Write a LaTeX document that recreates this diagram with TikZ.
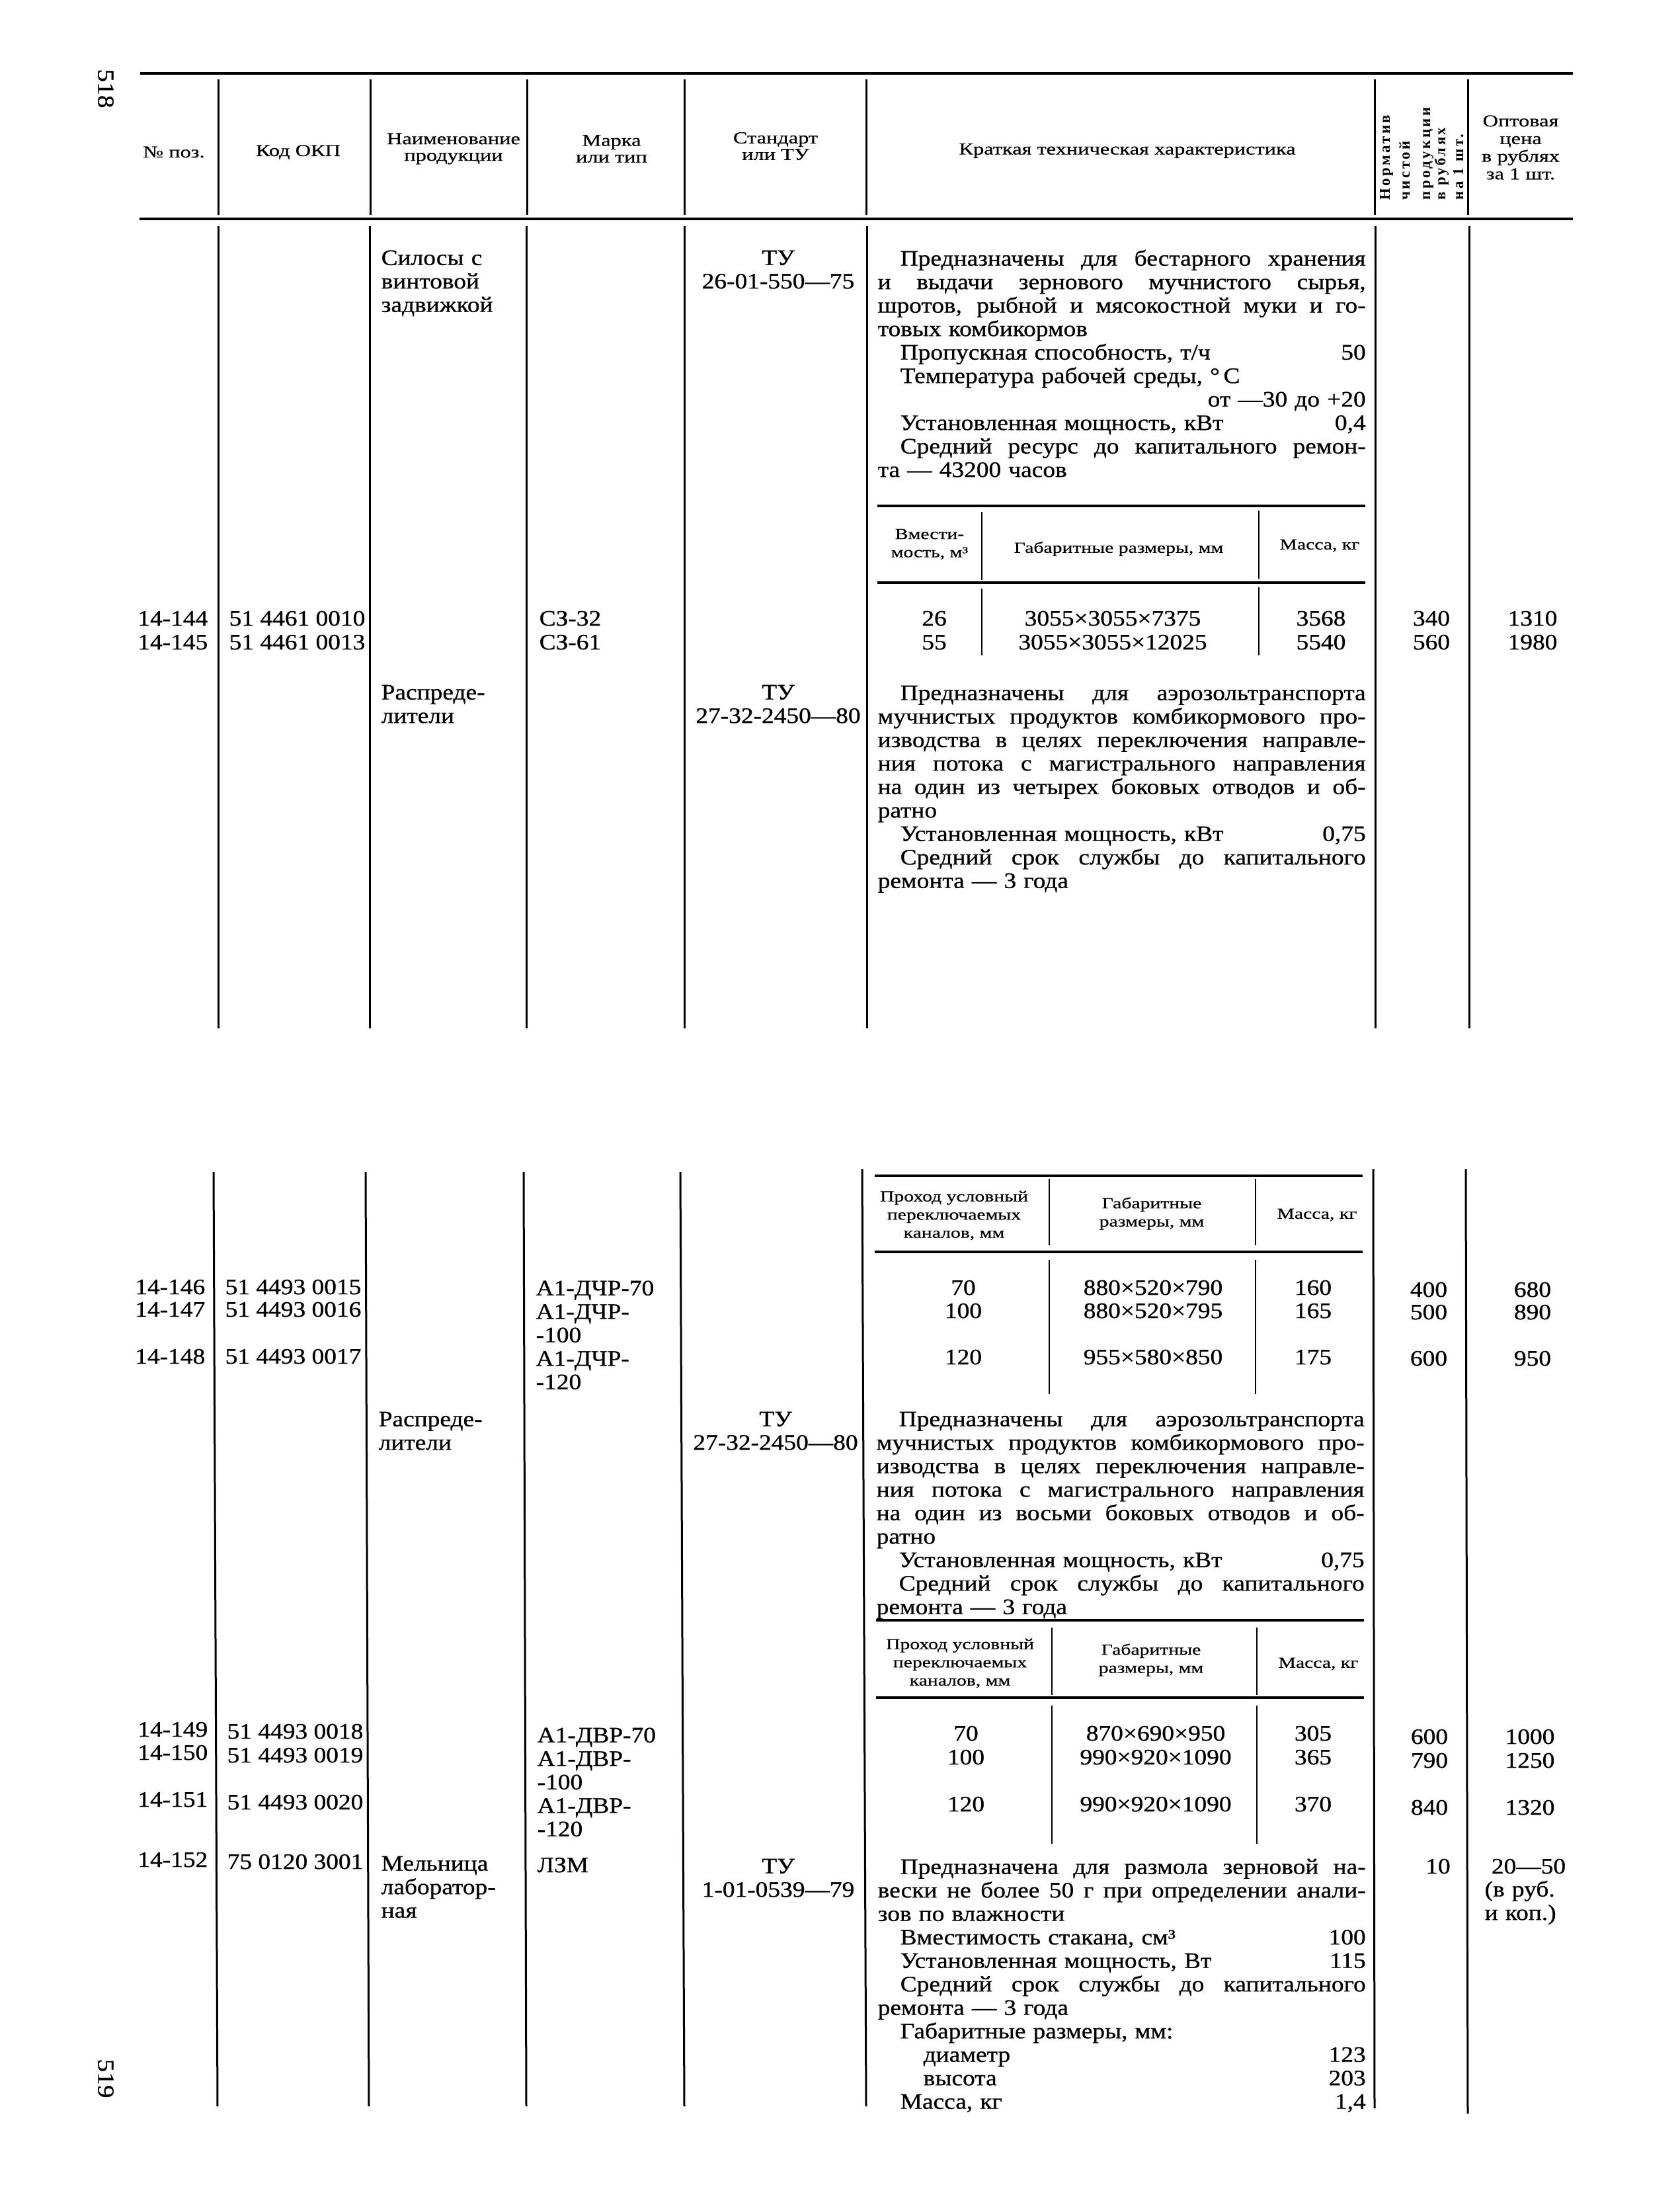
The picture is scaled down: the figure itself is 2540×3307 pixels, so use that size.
\documentclass[tikz,border=0pt]{standalone}
\usepackage{fontspec}
\setmainfont{Liberation Serif}
\newfontfamily\bodyf[FakeStretch=1.12,FakeBold=0.8]{Liberation Serif}
\newfontfamily\headf[FakeStretch=1.28,FakeBold=0.6]{Liberation Serif}
\newfontfamily\rotf[LetterSpace=15]{Liberation Serif}
\newlength\TW \setlength\TW{73.8mm}
\newcommand\BodyF{\bodyf\fontsize{9.5pt}{3.55mm}\selectfont}
\newcommand\HeadF{\headf\fontsize{7.2pt}{2.5mm}\selectfont}
\newcommand\SubF{\headf\fontsize{6.6pt}{2.75mm}\selectfont}
\newcommand\OptF{\headf\fontsize{7.2pt}{2.67mm}\selectfont}
\newcommand\RotF{\rotf\bfseries\fontsize{6.5pt}{7pt}\selectfont}
\newcommand\PgF{\bodyf\fontsize{10pt}{12pt}\selectfont}
\newcommand\TopS{\rule{0pt}{3mm}\lineskiplimit=-20pt\relax}
\newcommand\Ind{\hspace*{3.4mm}}
\newcommand\IndB{\hspace*{6.9mm}}
\newcommand\JL[1]{\leavevmode\hbox to \TW{\spaceskip=0.25em plus 1fil minus 0.05em\xspaceskip=\spaceskip\relax #1}}
\newcommand\VL[2]{\makebox[\TW][l]{#1\hfill#2}}
\begin{document}
\begin{tikzpicture}[x=0.1mm,y=-0.1mm,
  rl/.style={line width=0.35mm},
  vln/.style={line width=0.3mm},
  sln/.style={line width=0.25mm},
  tx/.style={inner sep=0pt,font=\BodyF},
  blk/.style={inner sep=0pt,anchor=north west,text width=73.8mm,align=left,font=\BodyF},
  nb/.style={inner sep=0pt,anchor=north west,text width=22mm,align=left,font=\BodyF},
  cb/.style={inner sep=0pt,anchor=north,text width=28mm,align=center,font=\BodyF},
  hd/.style={inner sep=0pt,align=center,font=\HeadF},
  sh/.style={inner sep=0pt,align=center,font=\SubF},
  rt/.style={inner sep=0pt,rotate=90,anchor=base west,font=\RotF}]
\fill[white] (0,0) rectangle (2540,3307);
\useasboundingbox (0,0) rectangle (2540,3307);

% page numbers
\node[tx,font=\PgF,rotate=-90] (p518) at (160,134) {518};
\node[tx,font=\PgF,rotate=-90] (p519) at (160,3143) {519};

% ===== header =====
\draw[rl] (212,111) -- (2379,111);
\draw[rl] (211,331) -- (2379,331);
\foreach \xx in {330,560,797,1035,1310,2079,2220}
  \draw[vln] (\xx,120) -- (\xx,325);
\node[hd] (h1) at (263,230) {№ поз.};
\node[hd] (h2) at (451,230) {Код ОКП};
\node[hd] (h3) at (686,225) {Наименование\\продукции};
\node[hd] (h4) at (925,225) {Марка\\или тип};
\node[hd] (h5) at (1173,221) {Стандарт\\или ТУ};
\node[hd] (h6) at (1705,228) {Краткая техническая характеристика};
\node[rt] (h7a) at (2102,303) {Норматив};
\node[rt] (h7b) at (2132,303) {чистой};
\node[rt] (h7c) at (2163,303) {продукции};
\node[rt] (h7d) at (2186,303) {в рублях};
\node[rt] (h7e) at (2213,303) {на 1 шт.};
\node[hd,font=\OptF] (h8) at (2300,223) {Оптовая\\цена\\в рублях\\за 1 шт.};

% ===== upper table body =====
\foreach \xx in {330,559,796,1035,1311,2080,2222}
  \draw[vln] (\xx,342) -- (\xx,1555);

\node[nb] (u3a) at (576,370) {\TopS Силосы с\\винтовой\\задвижкой};
\node[cb] (u5a) at (1177,370) {\TopS ТУ\\26-01-550—75};
\node[blk] (u6a) at (1327,371) {\TopS\JL{\Ind Предназначены для бестарного хранения}\\
\JL{и выдачи зернового мучнистого сырья,}\\
\JL{шротов, рыбной и мясокостной муки и го-}\\
товых комбикормов\\
\VL{\Ind Пропускная способность, т/ч}{50}\\
\Ind Температура рабочей среды, °\,C\\
\makebox[\TW][r]{от —30 до +20}\\
\VL{\Ind Установленная мощность, кВт}{0,4}\\
\JL{\Ind Средний ресурс до капитального ремон-}\\
та — 43200 часов};

% sub-table 1
\draw[rl] (1327,765) -- (2065,765);
\draw[rl] (1327,881) -- (2065,881);
\draw[sln] (1485,774) -- (1485,877);
\draw[sln] (1485,890) -- (1485,991);
\draw[sln] (1904,772) -- (1904,875);
\draw[sln] (1904,888) -- (1904,991);
\node[sh] (s1a) at (1406,823) {Вмести-\\мость, м³};
\node[sh] (s1b) at (1692,830) {Габаритные размеры, мм};
\node[sh] (s1c) at (1996,825) {Масса, кг};

\node[tx,anchor=base] (u26) at (1413,946) {26};
\node[tx,anchor=base] (u55) at (1413,982) {55};
\node[tx,anchor=base] (ud1) at (1683,946) {3055×3055×7375};
\node[tx,anchor=base] (ud2) at (1683,982) {3055×3055×12025};
\node[tx,anchor=base] (um1) at (1998,946) {3568};
\node[tx,anchor=base] (um2) at (1998,982) {5540};
\node[tx,anchor=base] (un1) at (2165,946) {340};
\node[tx,anchor=base] (un2) at (2165,982) {560};
\node[tx,anchor=base] (uc1) at (2318,946) {1310};
\node[tx,anchor=base] (uc2) at (2318,982) {1980};
\node[tx,anchor=base east] (u144) at (315,946) {14-144};
\node[tx,anchor=base east] (u145) at (315,982) {14-145};
\node[tx,anchor=base west] (uk1) at (346,946) {51 4461 0010};
\node[tx,anchor=base west] (uk2) at (346,982) {51 4461 0013};
\node[tx,anchor=base west] (ut1) at (815,946) {СЗ-32};
\node[tx,anchor=base west] (ut2) at (815,982) {СЗ-61};

\node[nb] (u3b) at (576,1027) {\TopS Распреде-\\лители};
\node[cb] (u5b) at (1177,1027) {\TopS ТУ\\27-32-2450—80};
\node[blk] (u6b) at (1327,1028) {\TopS\JL{\Ind Предназначены для аэрозольтранспорта}\\
\JL{мучнистых продуктов комбикормового про-}\\
\JL{изводства в целях переключения направле-}\\
\JL{ния потока с магистрального направления}\\
\JL{на один из четырех боковых отводов и об-}\\
ратно\\
\VL{\Ind Установленная мощность, кВт}{0,75}\\
\JL{\Ind Средний срок службы до капитального}\\
ремонта — 3 года};

% ===== lower table =====
\draw[vln] (323,1772) -- (329,3185);
\draw[vln] (553,1772) -- (558,3185);
\draw[vln] (792,1772) -- (796,3185);
\draw[vln] (1029,1772) -- (1035,3185);
\draw[vln] (1304,1768) -- (1310,3185);
\draw[vln] (2077,1768) -- (2079,3188);
\draw[vln] (2217,1768) -- (2220,3196);

% sub-table B1
\draw[rl] (1323,1778) -- (2061,1778);
\draw[rl] (1323,1893) -- (2061,1893);
\draw[sln] (1587,1783) -- (1587,1883);
\draw[sln] (1587,1905) -- (1587,2108);
\draw[sln] (1899,1783) -- (1899,1883);
\draw[sln] (1899,1905) -- (1899,2108);
\node[sh] (b1a) at (1443,1838) {Проход условный\\переключаемых\\каналов, мм};
\node[sh] (b1b) at (1742,1835) {Габаритные\\размеры, мм};
\node[sh] (b1c) at (1992,1837) {Масса, кг};

\node[tx,anchor=base] (bq1) at (1457,1958) {70};
\node[tx,anchor=base] (bq2) at (1457,1993) {100};
\node[tx,anchor=base] (bq3) at (1457,2063) {120};
\node[tx,anchor=base] (bd1) at (1744,1958) {880×520×790};
\node[tx,anchor=base] (bd2) at (1744,1993) {880×520×795};
\node[tx,anchor=base] (bd3) at (1744,2063) {955×580×850};
\node[tx,anchor=base] (bm1) at (1986,1958) {160};
\node[tx,anchor=base] (bm2) at (1986,1993) {165};
\node[tx,anchor=base] (bm3) at (1986,2063) {175};
\node[tx,anchor=base] (bn1) at (2161,1961) {400};
\node[tx,anchor=base] (bn2) at (2161,1995) {500};
\node[tx,anchor=base] (bn3) at (2161,2065) {600};
\node[tx,anchor=base] (bc1) at (2318,1961) {680};
\node[tx,anchor=base] (bc2) at (2318,1995) {890};
\node[tx,anchor=base] (bc3) at (2318,2065) {950};
\node[tx,anchor=base east] (b146) at (311,1957) {14-146};
\node[tx,anchor=base east] (b147) at (311,1991) {14-147};
\node[tx,anchor=base east] (b148) at (311,2062) {14-148};
\node[tx,anchor=base west] (bk1) at (340,1957) {51 4493 0015};
\node[tx,anchor=base west] (bk2) at (340,1991) {51 4493 0016};
\node[tx,anchor=base west] (bk3) at (340,2062) {51 4493 0017};
\node[nb] (bt1) at (810,1928) {\TopS А1-ДЧР-70\\А1-ДЧР-\\-100\\А1-ДЧР-\\-120};

\node[nb] (b3a) at (572,2126) {\TopS Распреде-\\лители};
\node[cb] (b5a) at (1173,2126) {\TopS ТУ\\27-32-2450—80};
\node[blk] (b6a) at (1325,2126) {\TopS\JL{\Ind Предназначены для аэрозольтранспорта}\\
\JL{мучнистых продуктов комбикормового про-}\\
\JL{изводства в целях переключения направле-}\\
\JL{ния потока с магистрального направления}\\
\JL{на один из восьми боковых отводов и об-}\\
ратно\\
\VL{\Ind Установленная мощность, кВт}{0,75}\\
\JL{\Ind Средний срок службы до капитального}\\
ремонта — 3 года};

% sub-table B2
\draw[rl] (1325,2450) -- (2063,2450);
\draw[rl] (1325,2567) -- (2063,2567);
\draw[sln] (1591,2461) -- (1591,2563);
\draw[sln] (1591,2579) -- (1591,2788);
\draw[sln] (1901,2461) -- (1901,2563);
\draw[sln] (1901,2579) -- (1901,2788);
\node[sh] (b2a) at (1452,2515) {Проход условный\\переключаемых\\каналов, мм};
\node[sh] (b2b) at (1741,2510) {Габаритные\\размеры, мм};
\node[sh] (b2c) at (1994,2516) {Масса, кг};

\node[tx,anchor=base] (cq1) at (1461,2632) {70};
\node[tx,anchor=base] (cq2) at (1461,2668) {100};
\node[tx,anchor=base] (cq3) at (1461,2739) {120};
\node[tx,anchor=base] (cd1) at (1748,2632) {870×690×950};
\node[tx,anchor=base] (cd2) at (1748,2668) {990×920×1090};
\node[tx,anchor=base] (cd3) at (1748,2739) {990×920×1090};
\node[tx,anchor=base] (cm1) at (1986,2632) {305};
\node[tx,anchor=base] (cm2) at (1986,2668) {365};
\node[tx,anchor=base] (cm3) at (1986,2739) {370};
\node[tx,anchor=base] (cn1) at (2162,2637) {600};
\node[tx,anchor=base] (cn2) at (2162,2673) {790};
\node[tx,anchor=base] (cn3) at (2162,2744) {840};
\node[tx,anchor=base] (cc1) at (2314,2637) {1000};
\node[tx,anchor=base] (cc2) at (2314,2673) {1250};
\node[tx,anchor=base] (cc3) at (2314,2744) {1320};
\node[tx,anchor=base east] (b149) at (315,2626) {14-149};
\node[tx,anchor=base east] (b150) at (315,2661) {14-150};
\node[tx,anchor=base east] (b151) at (315,2732) {14-151};
\node[tx,anchor=base west] (ck1) at (343,2629) {51 4493 0018};
\node[tx,anchor=base west] (ck2) at (343,2665) {51 4493 0019};
\node[tx,anchor=base west] (ck3) at (343,2736) {51 4493 0020};
\node[nb] (ct1) at (812,2604) {\TopS А1-ДВР-70\\А1-ДВР-\\-100\\А1-ДВР-\\-120};

% row 14-152
\node[tx,anchor=base east] (b152) at (315,2823) {14-152};
\node[tx,anchor=base west] (dk1) at (343,2826) {75 0120 3001};
\node[nb] (d3) at (576,2798) {\TopS Мельница\\лаборатор-\\ная};
\node[tx,anchor=base west] (dt1) at (812,2831) {ЛЗМ};
\node[cb] (d5) at (1177,2802) {\TopS ТУ\\1-01-0539—79};
\node[blk] (d6) at (1327,2803) {\TopS\JL{\Ind Предназначена для размола зерновой на-}\\
\JL{вески не более 50 г при определении анали-}\\
зов по влажности\\
\VL{\Ind Вместимость стакана, см³}{100}\\
\VL{\Ind Установленная мощность, Вт}{115}\\
\JL{\Ind Средний срок службы до капитального}\\
ремонта — 3 года\\
\Ind Габаритные размеры, мм:\\
\VL{\IndB диаметр}{123}\\
\VL{\IndB высота}{203}\\
\VL{\Ind Масса, кг}{1,4}};
\node[tx,anchor=base] (dn1) at (2175,2833) {10};
\node[tx,anchor=base] (dc1) at (2312,2833) {20—50};
\node[nb,text width=14mm] (dc2) at (2245,2837) {\TopS(в руб.\\и коп.)};
\end{tikzpicture}
\end{document}
